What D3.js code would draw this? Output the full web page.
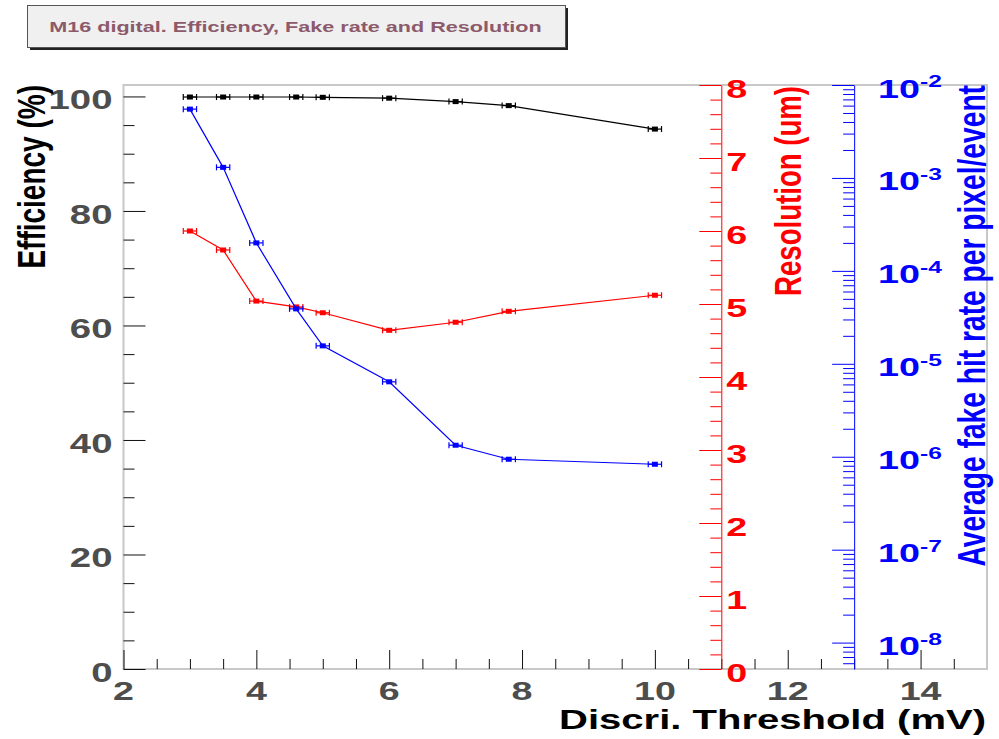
<!DOCTYPE html>
<html>
<head>
<meta charset="utf-8">
<script src="https://cdn.jsdelivr.net/npm/d3@7"></script>
<style>
  body { margin: 0; background: #fff; }
  text { font-family: "Liberation Sans", Arial, sans-serif; font-weight: bold; }
</style>
</head>
<body>
<script>
// values
var thresholds = [3, 3.5, 4, 4.6, 5, 6, 7, 7.8, 10];
var thresholdErr = [0.1, 0.1, 0.1, 0.1, 0.1, 0.1, 0.1, 0.1, 0.1];
var efficiency = [99.9, 99.9, 99.9, 99.9, 99.85, 99.7, 99.1, 98.4, 94.3];
var resolution = [6.0, 5.74, 5.04, 4.96, 4.88, 4.64, 4.75, 4.9, 5.12];
var fakeRate = [5.5e-3, 1.3e-3, 2.0e-4, 3.9e-5, 1.56e-5, 6.4e-6, 1.33e-6, 9.4e-7, 8.3e-7];

var xTicks = [2, 4, 6, 8, 10, 12, 14];
var effTicks = [0, 20, 40, 60, 80, 100];
var resTicks = [0, 1, 2, 3, 4, 5, 6, 7, 8];
var fakeTicks = [1e-8, 1e-7, 1e-6, 1e-5, 1e-4, 1e-3, 1e-2];

var W = 999, H = 739;
var L = 123.5, R = 987, T = 85, B = 669;
var SX = 1.42; // the picture is stretched sideways

var svg = d3.select("body").append("svg").attr("width", W).attr("height", H);

var x = d3.scaleLinear().domain([2, 15]).range([L, R]);
var yEff = d3.scaleLinear().domain([0, 102]).range([B, T]);
var yRes = d3.scaleLinear().domain([0, 8]).range([B, T]);
var yFake = d3.scaleLog().domain([5.2e-9, 1e-2]).range([B, T]);

// small helper for the stretched bold text
function label(g, px, py, s, size, color, anchor, sx, rot) {
  return g.append("text")
    .attr("transform", "translate(" + px + "," + py + ") scale(" + sx + ",1)" + (rot ? " rotate(" + rot + ")" : ""))
    .attr("text-anchor", anchor)
    .style("font-size", size + "px")
    .attr("fill", color)
    .text(s);
}

// title box
svg.append("rect").attr("x", 30).attr("y", 8).attr("width", 538).attr("height", 42).attr("fill", "#222");
svg.append("rect").attr("x", 27.5).attr("y", 5.5).attr("width", 538).attr("height", 42)
  .attr("fill", "#f0f0f0").attr("stroke", "#555").attr("stroke-width", 1);
label(svg, 295.5, 31.5, "M16 digital. Efficiency, Fake rate and Resolution", 15, "#8c5a6a", "middle", 1.44);

// frame
svg.append("rect").attr("x", L).attr("y", T).attr("width", R - L).attr("height", B - T)
  .attr("fill", "none").attr("stroke", "#c8c8c8").attr("stroke-width", 2);

function axisGroup(tr, ax, color) {
  var g = svg.append("g").attr("transform", tr).style("color", color).call(ax);
  return g;
}

// left efficiency axis, ticks inside
var effMinor = d3.range(0, 101, 5).filter(function (v) { return v % 20 != 0; });
axisGroup("translate(" + L + ",0)", d3.axisRight(yEff).tickValues(effMinor).tickSize(11).tickFormat(""), "#111")
  .select(".domain").remove();
axisGroup("translate(" + L + ",0)", d3.axisRight(yEff).tickValues(effTicks).tickSize(22).tickFormat(""), "#111")
  .select(".domain").remove();
effTicks.forEach(function (v) {
  label(svg, 112.5, yEff(v) + 13, String(v), 27, "#4d4d4d", "end", SX);
});

// bottom axis
var xMinor = d3.range(4, 30).map(function (i) { return i / 2; }).filter(function (v) { return v % 2 != 0; });
axisGroup("translate(0," + B + ")", d3.axisTop(x).tickValues(xMinor).tickSize(10).tickFormat(""), "#111")
  .select(".domain").remove();
axisGroup("translate(0," + B + ")", d3.axisTop(x).tickValues(xTicks).tickSize(19).tickFormat(""), "#111")
  .select(".domain").remove();
xTicks.forEach(function (v) {
  label(svg, x(v), 700, String(v), 26.5, "#4d4d4d", "middle", SX);
});

// red resolution axis at x = 11
var resMinor = d3.range(0, 41).filter(function (i) { return i % 5 != 0; }).map(function (i) { return i / 5; });
axisGroup("translate(" + x(11) + ",0)", d3.axisLeft(yRes).tickValues(resMinor).tickSize(11).tickFormat(""), "#ff0000")
  .select(".domain").remove();
axisGroup("translate(" + x(11) + ",0)", d3.axisLeft(yRes).tickValues(resTicks).tickSize(22).tickSizeOuter(0).tickFormat(""), "#ff0000");
resTicks.forEach(function (v) {
  label(svg, x(11) + 5, yRes(v) + 12.5, String(v), 26.5, "#ff0000", "start", SX);
});

// blue fake-rate log axis at x = 13
var fakeMinor = [];
d3.range(-9, -2).forEach(function (d) {
  d3.range(2, 10).forEach(function (k) {
    var v = k * Math.pow(10, d);
    if (v >= 5.2e-9 && v <= 1e-2) fakeMinor.push(v);
  });
});
axisGroup("translate(" + x(13) + ",0)", d3.axisLeft(yFake).tickValues(fakeMinor).tickSize(11).tickFormat(""), "#0000ff")
  .select(".domain").remove();
axisGroup("translate(" + x(13) + ",0)", d3.axisLeft(yFake).tickValues(fakeTicks).tickSize(22).tickSizeOuter(0).tickFormat(""), "#0000ff");
fakeTicks.forEach(function (v) {
  var t = label(svg, 878, yFake(v) + 12.5, "10", 26, "#0000ff", "start", 1.45);
  t.append("tspan").attr("dy", -10.5).style("font-size", "17px").text(String(Math.round(Math.log10(v))));
});

// axis titles
label(svg, 45, 85, "Efficiency (%)", 28, "#000", "end", 1.41, -90);
label(svg, 801, 86, "Resolution (um)", 27.6, "#ff0000", "end", 1.35, -90);
label(svg, 985, 85, "Average fake hit rate per pixel/event", 28.2, "#0000ff", "end", 1.4, -90);
label(svg, 986, 729, "Discri. Threshold (mV)", 28, "#000", "end", 1.43);

// series: line, horizontal error bars, square markers
function drawSeries(vals, yScale, color) {
  var pts = thresholds.map(function (t, i) { return { x: t, e: thresholdErr[i], y: vals[i] }; });
  var g = svg.append("g");
  g.append("path").datum(pts)
    .attr("d", d3.line().x(function (d) { return x(d.x); }).y(function (d) { return yScale(d.y); }))
    .attr("fill", "none").attr("stroke", color).attr("stroke-width", 1.2);
  var eb = g.selectAll(".eb").data(pts).enter().append("g")
    .attr("transform", function (d) { return "translate(0," + yScale(d.y) + ")"; });
  eb.append("line")
    .attr("x1", function (d) { return x(d.x - d.e); }).attr("x2", function (d) { return x(d.x + d.e); })
    .attr("stroke", color).attr("stroke-width", 1.2);
  eb.append("line")
    .attr("x1", function (d) { return x(d.x - d.e); }).attr("x2", function (d) { return x(d.x - d.e); })
    .attr("y1", -3).attr("y2", 3).attr("stroke", color).attr("stroke-width", 1.2);
  eb.append("line")
    .attr("x1", function (d) { return x(d.x + d.e); }).attr("x2", function (d) { return x(d.x + d.e); })
    .attr("y1", -3).attr("y2", 3).attr("stroke", color).attr("stroke-width", 1.2);
  eb.append("rect")
    .attr("x", function (d) { return x(d.x) - 3; }).attr("y", -2.5)
    .attr("width", 6).attr("height", 5).attr("fill", color);
}

drawSeries(resolution, yRes, "#ff0000");
drawSeries(fakeRate, yFake, "#0000ff");
drawSeries(efficiency, yEff, "#000000");
</script>
</body>
</html>
